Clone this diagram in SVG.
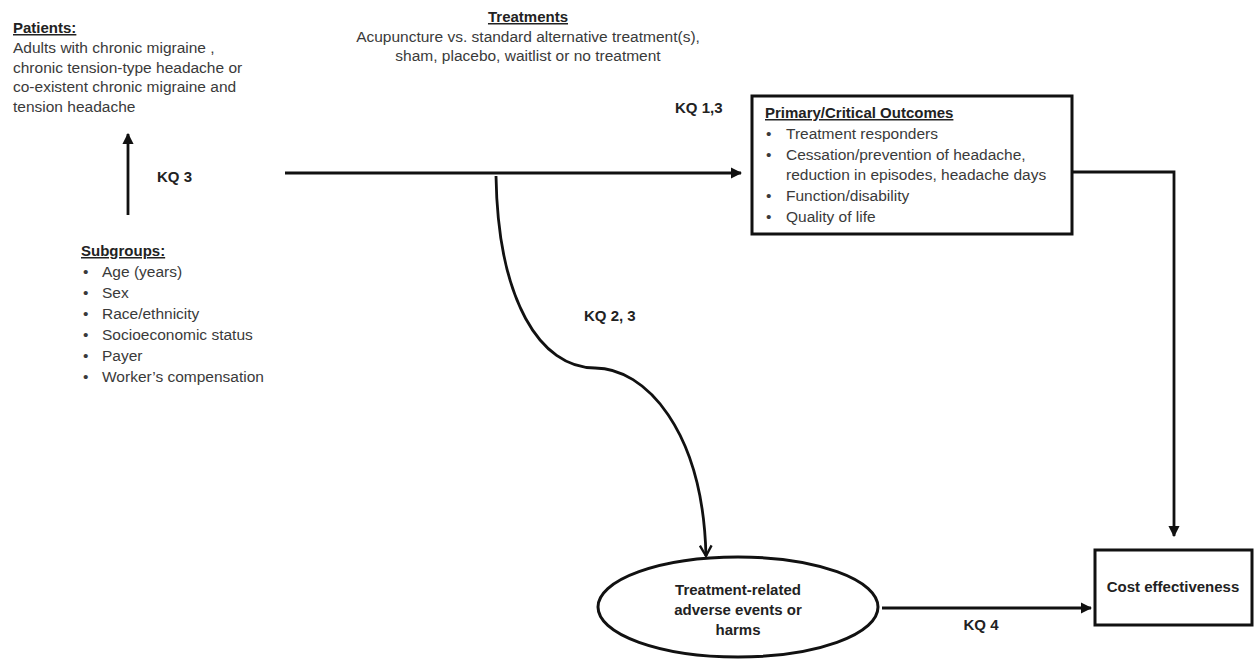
<svg xmlns="http://www.w3.org/2000/svg" width="1254" height="660" viewBox="0 0 1254 660">
<style>
text{font-family:"Liberation Sans",Arial,sans-serif;fill:#3a3a3a;font-size:15.5px}
.b{font-weight:bold;fill:#222;font-size:15px}
.u{text-decoration:underline}
.c{text-anchor:middle}
.ln{fill:none;stroke:#111;stroke-width:2.8}
.box{fill:#fff;stroke:#111;stroke-width:3}
</style>
<defs>
<marker id="ah" viewBox="0 0 10 10" refX="9" refY="5" markerWidth="4" markerHeight="4" orient="auto" markerUnits="strokeWidth">
<path d="M0,0 L10,5 L0,10 z" fill="#111"/>
</marker>
<marker id="av" viewBox="0 0 12 12" refX="10" refY="6" markerWidth="5" markerHeight="5" orient="auto" markerUnits="strokeWidth">
<path d="M1,1 L10,6 L1,11" fill="none" stroke="#111" stroke-width="2"/>
</marker>
</defs>
<g id="connectors">
<line class="ln" x1="128" y1="215" x2="128" y2="134" marker-end="url(#ah)"/>
<line class="ln" x1="285" y1="173" x2="741" y2="173" marker-end="url(#ah)"/>
<path class="ln" d="M496,176 C498,300 540,368 595,368 C645,368 703,430 706,556" marker-end="url(#av)"/>
<polyline class="ln" points="1072,172 1174,172 1174,536" marker-end="url(#ah)"/>
<line class="ln" x1="882" y1="608" x2="1091" y2="608" marker-end="url(#ah)"/>
<text class="b" x="157" y="182">KQ 3</text>
<text class="b" x="675" y="113">KQ 1,3</text>
<text class="b" x="584" y="321">KQ 2, 3</text>
<text class="b c" x="981" y="630">KQ 4</text>
</g>
<g id="patients">
<text class="b u" x="13" y="33">Patients:</text>
<text x="13" y="53">Adults with chronic migraine ,</text>
<text x="13" y="73">chronic tension-type headache or</text>
<text x="13" y="92">co-existent chronic migraine and</text>
<text x="13" y="112">tension headache</text>
</g>
<g id="treatments">
<text class="b u c" x="528" y="22">Treatments</text>
<text class="c" x="528" y="42">Acupuncture vs. standard alternative treatment(s),</text>
<text class="c" x="528" y="61">sham, placebo, waitlist or no treatment</text>
</g>
<g id="subgroups">
<text class="b u" x="81" y="256">Subgroups:</text>
<g>
<text x="83" y="277">•</text><text x="102" y="277">Age (years)</text>
<text x="83" y="298">•</text><text x="102" y="298">Sex</text>
<text x="83" y="319">•</text><text x="102" y="319">Race/ethnicity</text>
<text x="83" y="340">•</text><text x="102" y="340">Socioeconomic status</text>
<text x="83" y="361">•</text><text x="102" y="361">Payer</text>
<text x="83" y="382">•</text><text x="102" y="382">Worker’s compensation</text>
</g>
</g>
<g id="outcomes">
<rect class="box" x="752" y="96" width="320" height="138"/>
<text class="b u" x="765" y="118">Primary/Critical Outcomes</text>
<text x="766" y="139">•</text><text x="786" y="139">Treatment responders</text>
<text x="766" y="160">•</text><text x="786" y="160">Cessation/prevention of headache,</text>
<text x="786" y="180">reduction in episodes, headache days</text>
<text x="766" y="201">•</text><text x="786" y="201">Function/disability</text>
<text x="766" y="222">•</text><text x="786" y="222">Quality of life</text>
</g>
<g id="harms">
<ellipse class="box" cx="738" cy="607" rx="140" ry="50"/>
<text class="b c" x="738" y="595">Treatment-related</text>
<text class="b c" x="738" y="615">adverse events or</text>
<text class="b c" x="738" y="635">harms</text>
</g>
<g id="cost">
<rect class="box" x="1095" y="550" width="157" height="75"/>
<text class="b c" x="1173" y="592">Cost effectiveness</text>
</g>
</svg>
